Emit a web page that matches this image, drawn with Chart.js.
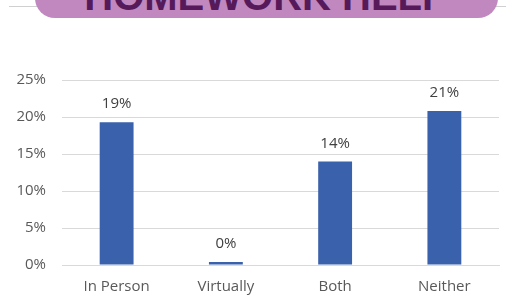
<!DOCTYPE html>
<html lang="en">
<head>
    <meta charset="UTF-8">
    <title>Homework Help</title>
    <script src="https://cdn.jsdelivr.net/npm/chart.js"></script>
    <style>
        body { margin: 0; background: #fff; }
        #wrap { position: relative; width: 506px; height: 308px; overflow: hidden; }
        #rule { position: absolute; left: 9px; right: 0; top: 6px; height: 1px; background: #d0d0d0; }
        #banner {
            position: absolute; left: 35px; width: 463px; top: -30px; height: 48px;
            background: #c188bf; border-radius: 20px;
            text-align: center; overflow: hidden;
        }
        #banner span {
            position: absolute; left: 0; right: 0; bottom: 2px;
            font: bold 40px "Liberation Sans", Arial, sans-serif; line-height: 40px;
            color: #561a5a;
        }
        canvas { position: absolute; left: 0; top: 0; }
    </style>
</head>
<body>
    <div id="wrap">
        <div id="rule"></div>
        <div id="banner"><span>HOMEWORK HELP</span></div>
        <canvas id="chart" width="506" height="308"></canvas>
    </div>
    <script>
        // values
        const categories = ["In Person", "Virtually", "Both", "Neither"];
        const shares = [19.3, 0.4, 14.0, 20.8];
        const yTicks = [0, 5, 10, 15, 20, 25];

        const fontFamily = "'Open Sans', sans-serif";

        // prints the rounded value above each bar
        const barLabels = {
            id: "barLabels",
            afterDatasetsDraw(chart) {
                const ctx = chart.ctx;
                const meta = chart.getDatasetMeta(0);
                ctx.save();
                ctx.font = "15px " + fontFamily;
                ctx.fillStyle = "#404040";
                ctx.textAlign = "center";
                ctx.textBaseline = "middle";
                meta.data.forEach((bar, i) => {
                    ctx.fillText(Math.round(shares[i]) + "%", bar.x, bar.y - 18);
                });
                ctx.restore();
            }
        };

        new Chart(document.getElementById("chart"), {
            type: "bar",
            data: {
                labels: categories,
                datasets: [{
                    data: shares,
                    backgroundColor: "#3a61ab",
                    barPercentage: 1,
                    categoryPercentage: 0.31
                }]
            },
            options: {
                responsive: false,
                animation: false,
                layout: { padding: { top: 80, right: 7, left: 0, bottom: 0 } },
                plugins: { legend: { display: false }, tooltip: { enabled: false } },
                scales: {
                    x: {
                        grid: { display: false, drawTicks: false },
                        border: { color: "#d9d9d9" },
                        ticks: { color: "#595959", font: { family: fontFamily, size: 15 }, padding: 13 },
                        afterFit: s => { s.height = 43; }
                    },
                    y: {
                        min: 0,
                        max: 25,
                        afterBuildTicks: s => { s.ticks = yTicks.map(v => ({ value: v })); },
                        grid: { color: "#d9d9d9", drawTicks: false },
                        border: { display: false },
                        ticks: {
                            color: "#595959", font: { family: fontFamily, size: 15 }, padding: 16,
                            callback: v => v + "%"
                        },
                        afterFit: s => { s.width = 62; }
                    }
                }
            },
            plugins: [barLabels]
        });
    </script>
</body>
</html>
